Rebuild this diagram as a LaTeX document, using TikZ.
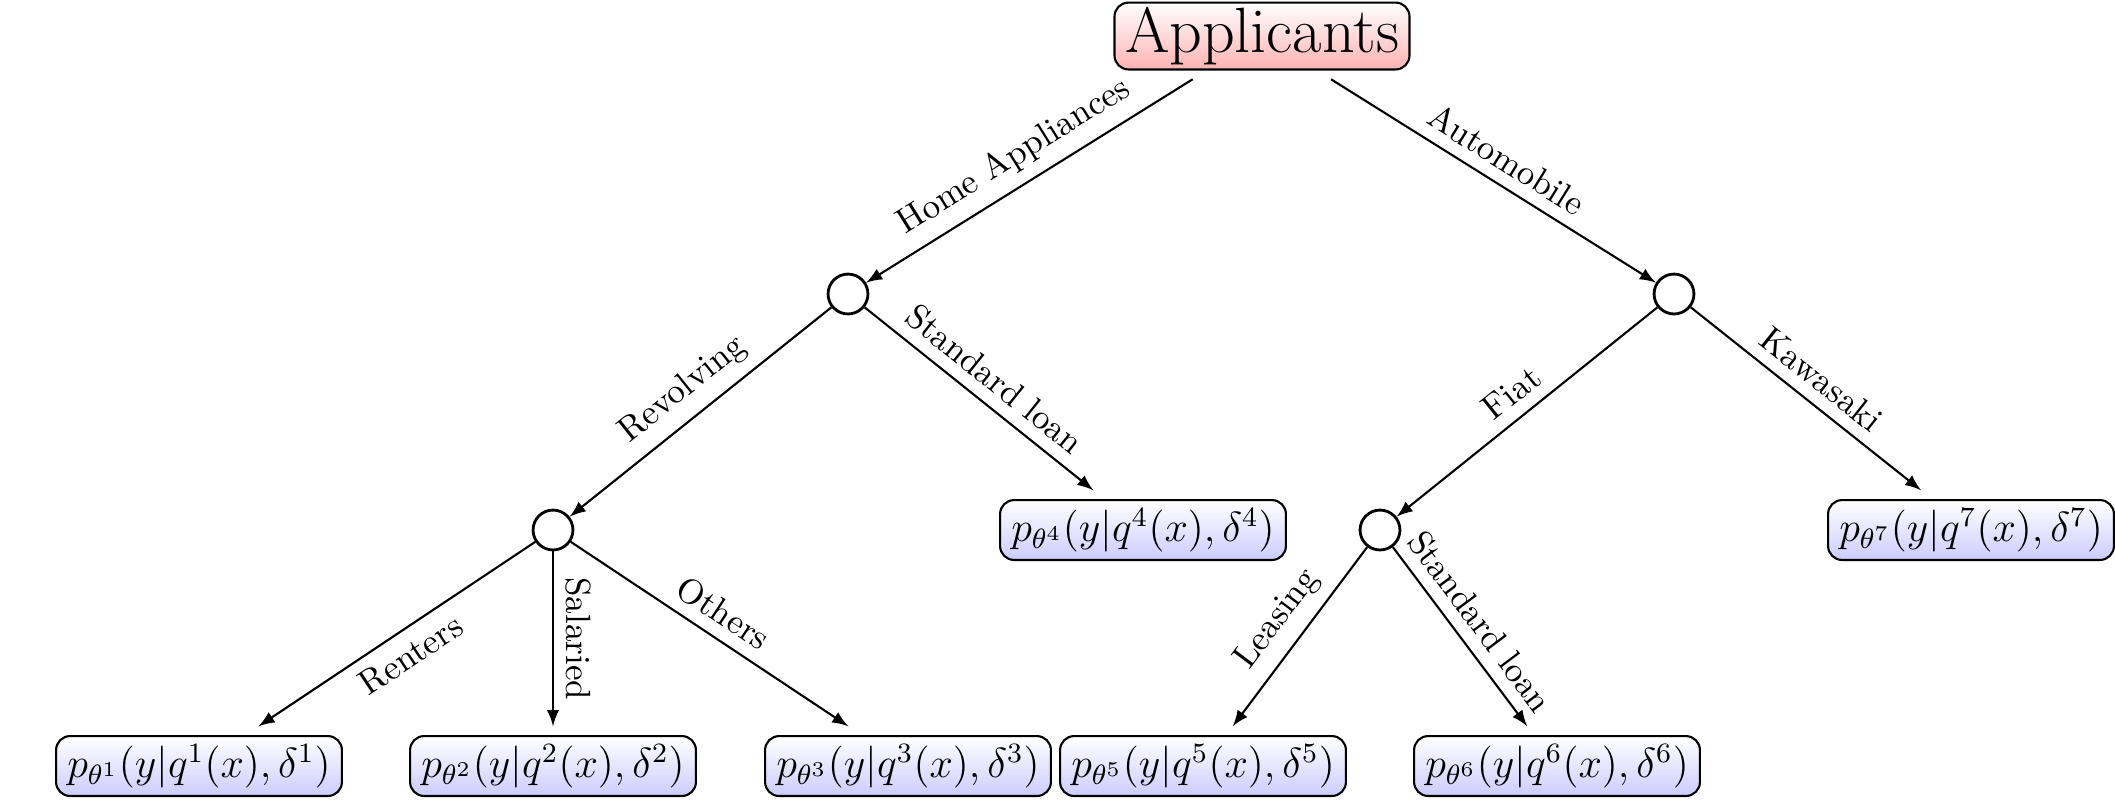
\documentclass[tikz,border=0pt]{standalone}
\usepackage{amsmath, amssymb}
\usepackage{tikz}
\usetikzlibrary{arrows.meta,positioning}

\begin{document}
\begin{tikzpicture}[
  x=0.2857pt, y=-0.2857pt,
  root/.style={rectangle, rounded corners=4pt, draw, top color=white, bottom color=red!30, font=\fontsize{18.3}{22}\selectfont, inner xsep=3pt, inner ysep=1.3pt, outer sep=2.8pt},
  leaf/.style={rectangle, rounded corners=4pt, draw, top color=white, bottom color=blue!20, font=\large, inner xsep=3.2pt, inner ysep=2.3pt, outer sep=2.8pt},
  split/.style={circle, draw, thick, minimum size=11.4pt, inner sep=0pt},
  ->, >=latex, semithick
]
\useasboundingbox (0,0) rectangle (2115,799);

% Root
\node[root] (app) at (1262,36) {Applicants};

% First split
\node[split] (home) at (848,294) {};
\node[split] (auto) at (1674,294) {};
\draw (app) -- node[midway, above, sloped] {Home Appliances} (home);
\draw (app) -- node[midway, above, sloped] {Automobile} (auto);

% Home appliances branch
\node[split] (rev) at (553,530) {};
\node[leaf] (p4) at (1143,530) {$p_{\theta^4}(y|q^4(x),\delta^4)$};
\draw (home) -- node[midway, above, sloped] {Revolving} (rev);
\draw (home) -- node[midway, above, sloped] {Standard loan} (p4);

\node[leaf] (p1) at (199,766) {$p_{\theta^1}(y|q^1(x),\delta^1)$};
\node[leaf] (p2) at (553,766) {$p_{\theta^2}(y|q^2(x),\delta^2)$};
\node[leaf] (p3) at (908,766) {$p_{\theta^3}(y|q^3(x),\delta^3)$};
\draw (rev) -- node[midway, below, sloped] {Renters} (p1);
\draw (rev) -- node[midway, above, sloped] {Salaried} (p2);
\draw (rev) -- node[midway, above, sloped] {Others} (p3);

% Automobile branch
\node[split] (fiat) at (1380,530) {};
\node[leaf] (p7) at (1971,530) {$p_{\theta^7}(y|q^7(x),\delta^7)$};
\draw (auto) -- node[midway, above, sloped] {Fiat} (fiat);
\draw (auto) -- node[midway, above, sloped] {Kawasaki} (p7);

\node[leaf] (p5) at (1203,766) {$p_{\theta^5}(y|q^5(x),\delta^5)$};
\node[leaf] (p6) at (1557,766) {$p_{\theta^6}(y|q^6(x),\delta^6)$};
\draw (fiat) -- node[midway, above, sloped] {Leasing} (p5);
\draw (fiat) -- node[midway, above, sloped] {Standard loan} (p6);

\end{tikzpicture}
\end{document}
